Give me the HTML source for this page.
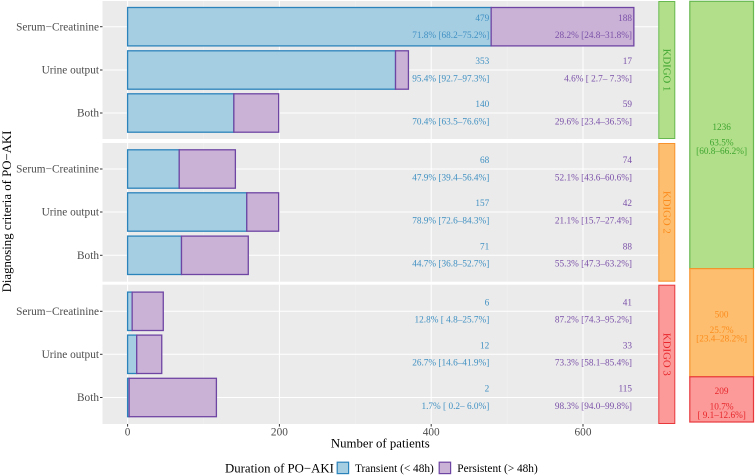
<!DOCTYPE html>
<html>
<head>
<meta charset="utf-8">
<style>
html,body{margin:0;padding:0;background:#fff;}
svg{display:block;font-family:"Liberation Serif",serif;}
</style>
</head>
<body>
<svg id="chart" width="755" height="476" viewBox="0 0 755 476" xmlns="http://www.w3.org/2000/svg"></svg>
<script>
const categories = ['Serum\u2212Creatinine', 'Urine output', 'Both'];
const stages = ['KDIGO 1', 'KDIGO 2', 'KDIGO 3'];
const transientCounts = [[479, 353, 140], [68, 157, 71], [6, 12, 2]];
const persistentCounts = [[188, 17, 59], [74, 42, 88], [41, 33, 115]];
const transientLabels = [
  ['71.8% [68.2\u201375.2%]', '95.4% [92.7\u201397.3%]', '70.4% [63.5\u201376.6%]'],
  ['47.9% [39.4\u201356.4%]', '78.9% [72.6\u201384.3%]', '44.7% [36.8\u201352.7%]'],
  ['12.8% [ 4.8\u201325.7%]', '26.7% [14.6\u201341.9%]', '1.7% [ 0.2\u2013 6.0%]']
];
const persistentLabels = [
  ['28.2% [24.8\u201331.8%]', '4.6% [ 2.7\u2013 7.3%]', '29.6% [23.4\u201336.5%]'],
  ['52.1% [43.6\u201360.6%]', '21.1% [15.7\u201327.4%]', '55.3% [47.3\u201363.2%]'],
  ['87.2% [74.3\u201395.2%]', '73.3% [58.1\u201385.4%]', '98.3% [94.0\u201399.8%]']
];
const stageTotals = [1236, 500, 209];
const stagePercents = ['63.5%', '25.7%', '10.7%'];
const stageIntervals = ['[60.8\u201366.2%]', '[23.4\u201328.2%]', '[ 9.1\u201312.6%]'];
const xTicks = [0, 200, 400, 600];
const xMinorTicks = [100, 300, 500];

const NS = 'http://www.w3.org/2000/svg';
const svg = document.getElementById('chart');
function el(tag, attrs, parent, text) {
  const e = document.createElementNS(NS, tag);
  for (const k in attrs) e.setAttribute(k, attrs[k]);
  if (text !== undefined) e.textContent = text;
  (parent || svg).appendChild(e);
  return e;
}
const x = v => 127.6 + v * 0.759;
const panels = [
  {top: 1, bottom: 139, centers: [26.7, 70, 113]},
  {top: 143, bottom: 281.7, centers: [169, 212, 255.3]},
  {top: 284.7, bottom: 424, centers: [311.3, 354.3, 397.5]}
];
const panelLeft = 102.5, panelRight = 658.3, barH = 38.4;
const stageFill = ['#b2df8a', '#fdbf6f', '#fb9a99'];
const stageStroke = ['#66b84f', '#f7922c', '#e8383c'];
const stageText = ['#3ea52f', '#fb8a1c', '#e8262b'];
const blueText = '#3f90c2', purpleText = '#7a50a8';

panels.forEach(function (p, i) {
  const g = el('g', {});
  
  
  const bg = el('rect', {x: panelLeft, y: p.top, width: panelRight - panelLeft, height: p.bottom - p.top, fill: '#ebebeb'}, g);
  
  
  xMinorTicks.forEach(function (t) {
    const m = el('line', {x1: x(t), x2: x(t), y1: p.top, y2: p.bottom, stroke: '#f2f2f2', 'stroke-width': 0.5}, g);
    
    
  });
  xTicks.forEach(function (t) {
    const l = el('line', {x1: x(t), x2: x(t), y1: p.top, y2: p.bottom, stroke: '#fff', 'stroke-width': 1}, g);
    
    
  });
  p.centers.forEach(function (c, j) {
    const gl = el('line', {x1: panelLeft, x2: panelRight, y1: c, y2: c, stroke: '#fff', 'stroke-width': 1}, g);
    
    
    const tick = el('line', {x1: 100, x2: panelLeft, y1: c, y2: c, stroke: '#333', 'stroke-width': 1}, g);
    
    
    const cat = el('text', {x: 99, y: c + 3.6, 'text-anchor': 'end', 'font-size': 11.3, fill: '#4d4d4d'}, g, categories[j]);
    
    
    const tv = transientCounts[i][j], pv = persistentCounts[i][j];
    const b1 = el('rect', {x: x(0), y: c - barH / 2, width: x(tv) - x(0), height: barH, fill: '#a6cee3', stroke: '#2b83bb', 'stroke-width': 1.3}, g);
    
    
    const b2 = el('rect', {x: x(tv), y: c - barH / 2, width: x(tv + pv) - x(tv), height: barH, fill: '#cab2d6', stroke: '#6f45a3', 'stroke-width': 1.3}, g);
    
    
    const t1 = el('text', {x: 489.3, y: c - 5.9, 'text-anchor': 'end', 'font-size': 9.25, fill: blueText, 'xml:space': 'preserve'}, g, String(tv));
    
    
    const t2 = el('text', {x: 489.3, y: c + 11.4, 'text-anchor': 'end', 'font-size': 9.25, fill: blueText, 'xml:space': 'preserve'}, g, transientLabels[i][j]);
    
    
    const t3 = el('text', {x: 632, y: c - 5.9, 'text-anchor': 'end', 'font-size': 9.25, fill: purpleText, 'xml:space': 'preserve'}, g, String(pv));
    
    
    const t4 = el('text', {x: 632, y: c + 11.4, 'text-anchor': 'end', 'font-size': 9.25, fill: purpleText, 'xml:space': 'preserve'}, g, persistentLabels[i][j]);
    
    
  });
  const strip = el('rect', {x: panelRight + 0.5, y: p.top + 0.5, width: 16, height: p.bottom - p.top - 1, fill: stageFill[i], stroke: stageStroke[i], 'stroke-width': 1}, g);
  
  
  const cy = (p.top + p.bottom) / 2;
  const st = el('text', {x: 0, y: 0, 'text-anchor': 'middle', 'font-size': 10.8, fill: stageText[i], transform: 'translate(663.4 ' + cy + ') rotate(90)'}, g, stages[i]);
  
  
});

xTicks.forEach(function (t) {
  const tk = el('line', {x1: x(t), x2: x(t), y1: 424, y2: 426.6, stroke: '#333', 'stroke-width': 1});
  
  
  const tl = el('text', {x: x(t), y: 435.5, 'text-anchor': 'middle', 'font-size': 11.3, fill: '#4d4d4d'}, svg, String(t));
  
  
});

const xTitle = el('text', {x: 380.3, y: 447.5, 'text-anchor': 'middle', 'font-size': 12.8, fill: '#000'}, svg, 'Number of patients');


const yTitle = el('text', {x: 0, y: 0, 'text-anchor': 'middle', 'font-size': 12.8, fill: '#000', transform: 'translate(10.8 211.5) rotate(-90)'}, svg, 'Diagnosing criteria of PO\u2212AKI');



const yStack = c => 1.3 + c * 0.2163;
const totalLabelY = [130, 317.5, 394.2];
let cum = 0;
stageTotals.forEach(function (v, i) {
  const top = yStack(cum), bot = yStack(cum + v);
  const r = el('rect', {x: 689.8, y: top, width: 63.7, height: bot - top, fill: stageFill[i], stroke: stageStroke[i], 'stroke-width': 1.2});
  
  
  const cy = totalLabelY[i];
  const a = el('text', {x: 721.6, y: cy, 'text-anchor': 'middle', 'font-size': 9.25, fill: stageText[i]}, svg, String(v));
  
  
  const b = el('text', {x: 721.6, y: cy + 15.3, 'text-anchor': 'middle', 'font-size': 9.25, fill: stageText[i]}, svg, stagePercents[i]);
  
  
  const d = el('text', {x: 721.6, y: cy + 24, 'text-anchor': 'middle', 'font-size': 9.25, fill: stageText[i], 'xml:space': 'preserve'}, svg, stageIntervals[i]);
  
  
  cum += v;
});

const lt = el('text', {x: 225, y: 472.5, 'font-size': 12.8, fill: '#000'}, svg, 'Duration of PO\u2212AKI');


const k1 = el('rect', {x: 337.2, y: 462.2, width: 11.4, height: 11.4, fill: '#a6cee3', stroke: '#2b83bb', 'stroke-width': 1.2});


const l1 = el('text', {x: 355, y: 472, 'font-size': 11.3, fill: '#000'}, svg, 'Transient (< 48h)');


const k2 = el('rect', {x: 439.2, y: 462.2, width: 11.4, height: 11.4, fill: '#cab2d6', stroke: '#6f45a3', 'stroke-width': 1.2});


const l2 = el('text', {x: 457.3, y: 472, 'font-size': 11.3, fill: '#000'}, svg, 'Persistent (> 48h)');


</script>
</body>
</html>
